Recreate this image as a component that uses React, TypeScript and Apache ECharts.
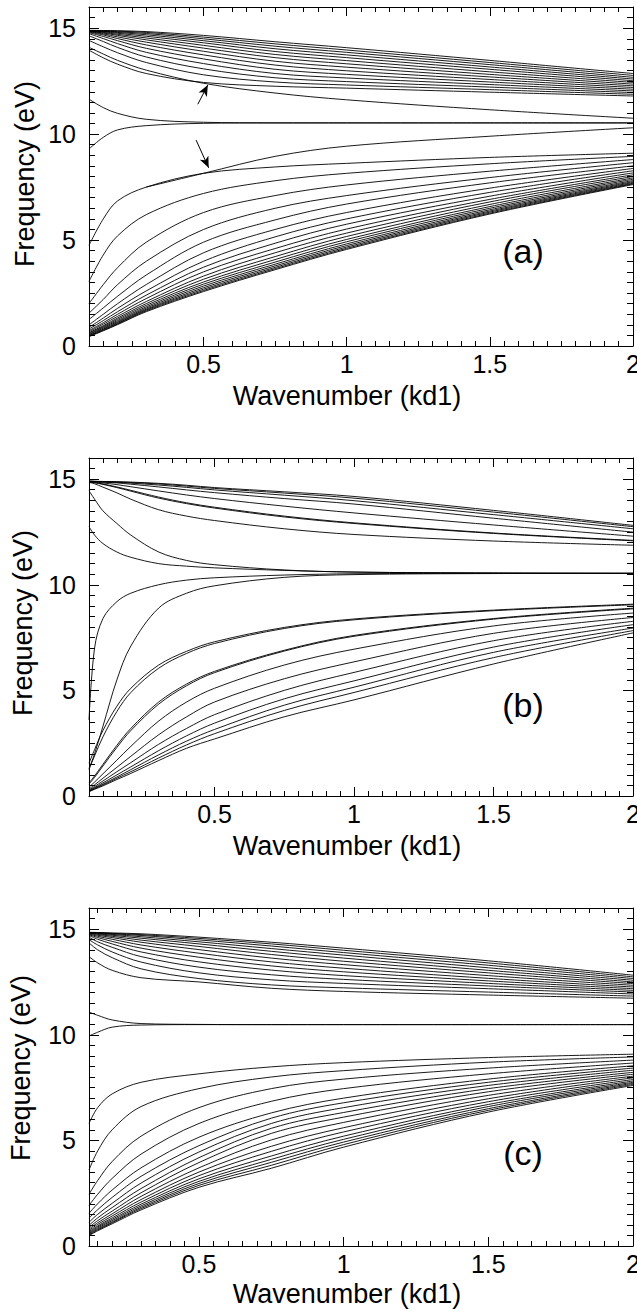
import { useEffect, useRef } from "react";
import * as echarts from "echarts";

// ---------------- data ----------------
const X_MAJOR = [0.5, 1, 1.5, 2];
const Y_MAJOR = [0, 5, 10, 15];
const X_MIN = [0.1, 0.05, 0.12];
const PANEL_LABELS = ["(a)", "(b)", "(c)"];
const X_TITLE = "Wavenumber (kd1)";
const Y_TITLE = "Frequency (eV)";

// panel (a)
const xA = [0.1, 0.15, 0.2, 0.3, 0.5, 0.75, 1.0, 1.5, 2.0];
const upperA = [
  [14.90, 14.89, 14.88, 14.84, 14.66, 14.36, 14.08, 13.48, 12.86],
  [14.89, 14.88, 14.86, 14.80, 14.58, 14.26, 13.97, 13.38, 12.77],
  [14.88, 14.86, 14.83, 14.75, 14.50, 14.15, 13.86, 13.28, 12.68],
  [14.88, 14.85, 14.80, 14.69, 14.41, 14.03, 13.74, 13.17, 12.60],
  [14.87, 14.83, 14.76, 14.62, 14.31, 13.90, 13.61, 13.06, 12.52],
  [14.86, 14.80, 14.71, 14.54, 14.19, 13.76, 13.47, 12.94, 12.44],
  [14.85, 14.77, 14.66, 14.45, 14.06, 13.61, 13.32, 12.82, 12.36],
  [14.84, 14.73, 14.59, 14.34, 13.91, 13.44, 13.16, 12.70, 12.28],
  [14.82, 14.68, 14.51, 14.21, 13.74, 13.26, 12.99, 12.58, 12.20],
  [14.79, 14.61, 14.41, 14.05, 13.55, 13.06, 12.82, 12.46, 12.12],
  [14.74, 14.51, 14.27, 13.86, 13.33, 12.86, 12.65, 12.34, 12.04],
  [14.64, 14.37, 14.09, 13.64, 13.08, 12.66, 12.48, 12.22, 11.96],
  [14.42, 14.12, 13.84, 13.38, 12.80, 12.46, 12.32, 12.10, 11.88],
  [13.96, 13.60, 13.30, 12.86, 12.44, 12.26, 12.17, 11.98, 11.80],
  [14.10, 13.78, 13.48, 13.02, 12.40, 11.94, 11.62, 11.15, 10.75],
];
const middleA = [
  [11.65, 11.25, 10.98, 10.70, 10.56, 10.53, 10.53, 10.53, 10.53],
  [9.30, 9.85, 10.20, 10.40, 10.51, 10.53, 10.53, 10.53, 10.53],
];
const lowerA = [
  [null, null, null, 7.50, 8.15, 8.95, 9.43, 9.90, 10.30],
  [4.75, 6.00, 6.85, 7.50, 8.15, 8.45, 8.62, 8.90, 9.10],
  [3.05, 4.30, 5.20, 6.20, 7.20, 7.80, 8.15, 8.60, 8.95],
  [2.00, 2.90, 3.70, 4.90, 6.30, 7.10, 7.60, 8.25, 8.80],
  [1.55, 2.20, 2.90, 4.00, 5.50, 6.50, 7.10, 7.95, 8.65],
  [1.25, 1.80, 2.35, 3.35, 4.90, 5.95, 6.70, 7.70, 8.50],
  [1.00, 1.50, 2.00, 2.90, 4.40, 5.50, 6.30, 7.45, 8.38],
  [0.88, 1.32, 1.78, 2.60, 4.00, 5.15, 6.00, 7.25, 8.27],
  [0.80, 1.20, 1.62, 2.40, 3.72, 4.85, 5.75, 7.07, 8.17],
  [0.73, 1.10, 1.50, 2.24, 3.50, 4.60, 5.52, 6.92, 8.08],
  [0.68, 1.03, 1.40, 2.10, 3.30, 4.40, 5.33, 6.80, 8.00],
  [0.63, 0.96, 1.32, 2.00, 3.15, 4.22, 5.17, 6.68, 7.93],
  [0.60, 0.92, 1.26, 1.92, 3.02, 4.08, 5.03, 6.58, 7.87],
  [0.56, 0.88, 1.20, 1.85, 2.92, 3.96, 4.92, 6.50, 7.81],
  [0.53, 0.84, 1.15, 1.79, 2.83, 3.86, 4.82, 6.43, 7.76],
  [0.50, 0.80, 1.11, 1.74, 2.75, 3.78, 4.74, 6.37, 7.72],
  [0.48, 0.77, 1.07, 1.70, 2.68, 3.71, 4.67, 6.32, 7.68],
  [0.46, 0.74, 1.04, 1.66, 2.62, 3.65, 4.61, 6.27, 7.65],
  [0.44, 0.72, 1.01, 1.62, 2.57, 3.60, 4.56, 6.23, 7.62],
];
// arrows in panel (a): [fromX, fromY, toX, toY]
const arrowsA = [
  [0.48, 11.41, 0.515, 12.32],
  [0.474, 9.72, 0.518, 8.41],
];

// panel (b)
const xB = [0.05, 0.07, 0.1, 0.15, 0.2, 0.3, 0.4, 0.5, 0.75, 1.0, 1.5, 2.0];
const upperB = [
  [14.91, 14.90, 14.89, 14.88, 14.86, 14.80, 14.71, 14.60, 14.40, 14.18, 13.52, 12.81],
  [14.90, 14.89, 14.88, 14.86, 14.84, 14.77, 14.67, 14.56, 14.34, 14.10, 13.44, 12.75],
  [14.90, 14.89, 14.87, 14.85, 14.81, 14.72, 14.61, 14.49, 14.24, 13.98, 13.32, 12.65],
  [14.89, 14.88, 14.86, 14.82, 14.76, 14.63, 14.49, 14.36, 14.08, 13.82, 13.15, 12.49],
  [14.88, 14.86, 14.82, 14.74, 14.64, 14.44, 14.25, 14.08, 13.72, 13.40, 12.83, 12.30],
  [14.87, 14.84, 14.77, 14.63, 14.47, 14.15, 13.88, 13.67, 13.25, 12.93, 12.45, 12.10],
  [14.86, 14.83, 14.75, 14.60, 14.43, 14.10, 13.84, 13.63, 13.21, 12.90, 12.43, 12.08],
  [14.85, 14.78, 14.62, 14.35, 14.05, 13.55, 13.25, 13.04, 12.65, 12.38, 12.07, 11.87],
];
const middleB = [
  [14.45, 14.05, 13.50, 12.90, 12.35, 11.55, 11.15, 10.95, 10.70, 10.60, 10.56, 10.54],
  [12.75, 12.35, 11.95, 11.55, 11.30, 11.00, 10.88, 10.80, 10.68, 10.60, 10.55, 10.54],
  [3.60, 7.00, 8.40, 9.20, 9.60, 10.00, 10.22, 10.33, 10.46, 10.52, 10.54, 10.54],
  [1.30, 2.00, 3.30, 5.50, 7.10, 8.90, 9.60, 9.95, 10.35, 10.48, 10.53, 10.54],
];
const lowerB = [
  [1.55, 2.20, 3.10, 4.25, 5.10, 6.20, 6.85, 7.30, 7.98, 8.38, 8.80, 9.08],
  [1.25, 1.90, 2.80, 4.00, 4.90, 6.05, 6.75, 7.22, 7.93, 8.34, 8.77, 9.05],
  [0.62, 0.95, 1.50, 2.40, 3.20, 4.45, 5.30, 5.90, 6.90, 7.60, 8.40, 8.89],
  [0.56, 0.88, 1.42, 2.30, 3.10, 4.35, 5.22, 5.84, 6.86, 7.56, 8.37, 8.86],
  [0.42, 0.66, 1.05, 1.70, 2.35, 3.55, 4.45, 5.10, 6.20, 6.95, 8.05, 8.66],
  [0.33, 0.53, 0.84, 1.36, 1.88, 2.90, 3.75, 4.45, 5.55, 6.35, 7.70, 8.45],
  [0.28, 0.45, 0.71, 1.15, 1.58, 2.45, 3.20, 3.85, 5.00, 5.85, 7.35, 8.27],
  [0.25, 0.40, 0.62, 1.00, 1.38, 2.15, 2.85, 3.45, 4.60, 5.45, 7.05, 8.11],
  [0.23, 0.37, 0.56, 0.90, 1.25, 1.95, 2.60, 3.15, 4.30, 5.15, 6.80, 7.95],
  [0.21, 0.34, 0.52, 0.84, 1.15, 1.80, 2.42, 2.95, 4.05, 4.90, 6.55, 7.83],
  [0.20, 0.32, 0.48, 0.78, 1.07, 1.68, 2.26, 2.70, 3.75, 4.55, 6.25, 7.72],
];

// panel (c)
const xC = [0.12, 0.15, 0.2, 0.3, 0.5, 0.75, 1.0, 1.5, 2.0];
const upperC = [
  [14.85, 14.84, 14.82, 14.78, 14.62, 14.38, 14.10, 13.50, 12.82],
  [14.84, 14.83, 14.80, 14.74, 14.56, 14.30, 14.00, 13.40, 12.74],
  [14.84, 14.82, 14.78, 14.70, 14.49, 14.20, 13.89, 13.29, 12.66],
  [14.83, 14.80, 14.75, 14.64, 14.40, 14.08, 13.77, 13.17, 12.58],
  [14.82, 14.78, 14.71, 14.57, 14.30, 13.95, 13.63, 13.05, 12.50],
  [14.81, 14.75, 14.66, 14.48, 14.18, 13.80, 13.48, 12.93, 12.42],
  [14.79, 14.71, 14.60, 14.38, 14.03, 13.63, 13.32, 12.80, 12.34],
  [14.77, 14.66, 14.52, 14.25, 13.86, 13.45, 13.15, 12.67, 12.26],
  [14.74, 14.60, 14.42, 14.10, 13.67, 13.26, 12.98, 12.55, 12.18],
  [14.70, 14.52, 14.30, 13.92, 13.45, 13.06, 12.80, 12.43, 12.10],
  [14.62, 14.40, 14.14, 13.70, 13.20, 12.84, 12.62, 12.31, 12.02],
  [14.50, 14.25, 13.92, 13.44, 12.93, 12.60, 12.43, 12.18, 11.93],
  [14.35, 14.02, 13.65, 13.12, 12.66, 12.36, 12.22, 12.02, 11.83],
  [13.70, 13.40, 13.05, 12.70, 12.50, 12.20, 12.05, 11.88, 11.73],
];
const middleC = [
  [11.07, 10.92, 10.70, 10.53, 10.49, 10.48, 10.48, 10.48, 10.48],
  [9.94, 10.12, 10.36, 10.46, 10.48, 10.48, 10.48, 10.48, 10.48],
];
const lowerC = [
  [5.80, 6.55, 7.20, 7.75, 8.15, 8.48, 8.68, 8.92, 9.08],
  [3.60, 4.50, 5.50, 6.60, 7.45, 8.00, 8.30, 8.70, 8.95],
  [2.45, 3.10, 4.00, 5.20, 6.55, 7.45, 7.90, 8.42, 8.80],
  [1.92, 2.45, 3.20, 4.35, 5.80, 6.85, 7.45, 8.15, 8.66],
  [1.55, 2.00, 2.65, 3.70, 5.15, 6.30, 7.00, 7.90, 8.53],
  [1.32, 1.72, 2.30, 3.30, 4.75, 6.05, 6.78, 7.75, 8.42],
  [1.12, 1.50, 2.02, 2.98, 4.45, 5.80, 6.55, 7.60, 8.32],
  [0.98, 1.33, 1.82, 2.72, 4.18, 5.57, 6.32, 7.45, 8.22],
  [0.88, 1.20, 1.65, 2.52, 3.95, 5.33, 6.10, 7.30, 8.13],
  [0.80, 1.10, 1.52, 2.35, 3.70, 5.02, 5.85, 7.13, 8.04],
  [0.74, 1.02, 1.42, 2.20, 3.50, 4.72, 5.60, 6.97, 7.96],
  [0.68, 0.95, 1.33, 2.08, 3.33, 4.48, 5.40, 6.83, 7.88],
  [0.63, 0.90, 1.26, 1.98, 3.18, 4.26, 5.20, 6.70, 7.81],
  [0.59, 0.85, 1.20, 1.90, 3.06, 4.10, 5.05, 6.60, 7.75],
  [0.55, 0.80, 1.14, 1.83, 2.96, 3.96, 4.92, 6.50, 7.70],
  [0.52, 0.76, 1.10, 1.77, 2.87, 3.82, 4.80, 6.42, 7.65],
  [0.49, 0.72, 1.05, 1.71, 2.78, 3.68, 4.68, 6.34, 7.60],
];

// ---------------- chart ----------------
const FONT = '"Liberation Sans", Arial, Helvetica, sans-serif';

function minorX(xMin: number) {
  const out: number[] = [];
  for (let i = 1; i <= 40; i++) {
    if (i % 10 === 0) continue;
    const v = Math.round(i * 5) / 100;
    if (v > xMin + 1e-6) out.push(v);
  }
  return out;
}
function minorY() {
  const out: number[] = [];
  for (let i = 1; i < 32; i++) {
    if (i % 10 === 0) continue;
    out.push(i / 2);
  }
  return out;
}

export default function App() {
  const ref = useRef<HTMLDivElement>(null);

  useEffect(() => {
    if (!ref.current) return;
    const chart = echarts.init(ref.current, null, { renderer: "svg" });

    const grids = [
      { left: 89, top: 7, width: 544, height: 339, containLabel: false, outerBoundsMode: "none" },
      { left: 89, top: 458, width: 544, height: 338, containLabel: false, outerBoundsMode: "none" },
      { left: 89, top: 908, width: 544, height: 338, containLabel: false, outerBoundsMode: "none" },
    ];
    const panels = [
      { xs: xA, curves: [...upperA, ...middleA, ...lowerA] },
      { xs: xB, curves: [...upperB, ...middleB, ...lowerB] },
      { xs: xC, curves: [...upperC, ...middleC, ...lowerC] },
    ];

    const xAxes: any[] = [];
    const yAxes: any[] = [];
    const black = { color: "#000", width: 1 };
    grids.forEach((_, g) => {
      const xMin = X_MIN[g];
      const xm = minorX(xMin);
      const base = { gridIndex: g, type: "value", min: xMin, max: 2, splitLine: { show: false } };
      xAxes.push(
        {
          ...base, position: "bottom",
          axisLine: { show: true, onZero: false, lineStyle: black },
          axisTick: { show: true, inside: true, length: 9, customValues: X_MAJOR, lineStyle: black },
          axisLabel: { show: true, customValues: X_MAJOR, fontSize: 25, fontFamily: FONT, color: "#000", margin: 5, hideOverlap: false },
        },
        {
          ...base, position: "bottom",
          axisLine: { show: false, onZero: false },
          axisTick: { show: true, inside: true, length: 5, customValues: xm, lineStyle: black },
          axisLabel: { show: false },
        },
        {
          ...base, position: "top",
          axisLine: { show: true, onZero: false, lineStyle: black },
          axisTick: { show: true, inside: true, length: 9, customValues: X_MAJOR, lineStyle: black },
          axisLabel: { show: false },
        },
        {
          ...base, position: "top",
          axisLine: { show: false, onZero: false },
          axisTick: { show: true, inside: true, length: 5, customValues: xm, lineStyle: black },
          axisLabel: { show: false },
        }
      );
      const ym = minorY();
      const ybase = { gridIndex: g, type: "value", min: 0, max: 16, splitLine: { show: false } };
      yAxes.push(
        {
          ...ybase, position: "left",
          axisLine: { show: true, onZero: false, lineStyle: black },
          axisTick: { show: true, inside: true, length: 10, customValues: Y_MAJOR, lineStyle: black },
          axisLabel: { show: true, customValues: Y_MAJOR, fontSize: 25, fontFamily: FONT, color: "#000", margin: 13 },
        },
        {
          ...ybase, position: "left",
          axisLine: { show: false, onZero: false },
          axisTick: { show: true, inside: true, length: 6, customValues: ym, lineStyle: black },
          axisLabel: { show: false },
        },
        {
          ...ybase, position: "right",
          axisLine: { show: true, onZero: false, lineStyle: black },
          axisTick: { show: true, inside: true, length: 10, customValues: Y_MAJOR, lineStyle: black },
          axisLabel: { show: false },
        },
        {
          ...ybase, position: "right",
          axisLine: { show: false, onZero: false },
          axisTick: { show: true, inside: true, length: 6, customValues: ym, lineStyle: black },
          axisLabel: { show: false },
        }
      );
    });

    const series: any[] = [];
    panels.forEach((p, g) => {
      p.curves.forEach((vals) => {
        series.push({
          type: "line",
          xAxisIndex: 4 * g,
          yAxisIndex: 4 * g,
          data: p.xs.map((x, j) => [x, vals[j]]).filter((d) => d[1] != null),
          showSymbol: false,
          symbol: "none",
          smooth: 0.35,
          lineStyle: { color: "#000", width: 0.9 },
          silent: true,
          clip: true,
        });
      });
    });
    // arrows in panel (a)
    series.push({
      type: "line",
      xAxisIndex: 0,
      yAxisIndex: 0,
      data: [],
      silent: true,
      markLine: {
        silent: true,
        symbol: ["none", "arrow"],
        symbolSize: [7, 11],
        label: { show: false },
        lineStyle: { color: "#000", width: 1, type: "solid" },
        data: arrowsA.map((a) => [{ coord: [a[0], a[1]] }, { coord: [a[2], a[3]] }]),
      },
    });

    const xTitleY = [396, 846, 1294];
    const yTitlePos = [[25, 174], [23, 623], [21, 1068]];
    const labelY = [251, 705, 1153];
    const graphic: any[] = [];
    grids.forEach((_, g) => {
      graphic.push({
        type: "text", x: 347, y: xTitleY[g], silent: true,
        style: { text: X_TITLE, font: `27px ${FONT}`, fill: "#000", align: "center", verticalAlign: "middle", textAlign: "center", textVerticalAlign: "middle" },
      });
      graphic.push({
        type: "text", x: yTitlePos[g][0], y: yTitlePos[g][1], rotation: Math.PI / 2, silent: true,
        style: { text: Y_TITLE, font: `27px ${FONT}`, fill: "#000", align: "center", verticalAlign: "middle", textAlign: "center", textVerticalAlign: "middle" },
      });
      graphic.push({
        type: "text", x: 523, y: labelY[g], silent: true,
        style: { text: PANEL_LABELS[g], font: `34px ${FONT}`, fill: "#000", align: "center", verticalAlign: "middle", textAlign: "center", textVerticalAlign: "middle" },
      });
    });

    chart.setOption({
      animation: false,
      backgroundColor: "#fff",
      grid: grids,
      xAxis: xAxes,
      yAxis: yAxes,
      series,
      graphic,
    });

    return () => chart.dispose();
  }, []);

  return (
    <div
      ref={ref}
      style={{ position: "absolute", left: 0, top: 0, width: 637, height: 1311, background: "#fff" }}
    />
  );
}
